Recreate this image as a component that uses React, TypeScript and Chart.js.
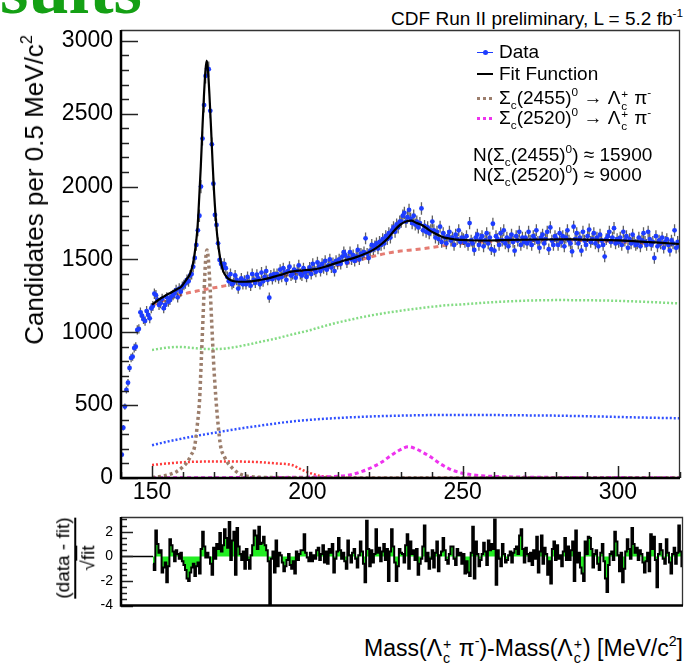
import React, { useEffect, useRef } from "react";
import { Chart, registerables } from "chart.js";

Chart.register(...registerables);

const FONT = '"Liberation Sans", Arial, Helvetica, sans-serif';

// ---- axes -------------------------------------------------------------
const MASS_MIN = 140;
const MASS_MAX = 320;
const COUNT_MAX = 3075;
const PULL_MIN = -4;
const PULL_MAX = 3.2;
const X_TICKS = [150, 200, 250, 300];
const Y_TICKS = [0, 500, 1000, 1500, 2000, 2500, 3000];
const PULL_TICKS = [-4, -2, 0, 2];

// ---- histogram: candidates per 0.5 MeV/c^2 (bin centres from 140.25) ---
const BIN_WIDTH = 0.5;
const DATA_FIRST_BIN = 140.25;
const CANDIDATES = [
  160, 345, 490, 604, 654, 755, 824, 833, 892, 901, 1016, 1023, 1137, 1114, 1090, 1078, 1146, 1119, 1096, 1165,
  1180, 1265, 1255, 1222, 1188, 1199, 1230, 1165, 1188, 1240, 1210, 1222, 1245, 1256, 1268, 1290, 1240, 1300, 1279, 1313,
  1325, 1336, 1360, 1350, 1390, 1400, 1450, 1510, 1600, 1700, 1800, 2000, 2330, 2560, 2760, 2810, 2806, 2520, 2290, 2020,
  1806, 1737, 1611, 1497, 1470, 1450, 1470, 1440, 1380, 1350, 1400, 1330, 1340, 1390, 1360, 1300, 1340, 1370, 1330, 1355,
  1330, 1380, 1345, 1320, 1400, 1360, 1340, 1395, 1370, 1330, 1410, 1350, 1380, 1420, 1360, 1238, 1390, 1365, 1400, 1380,
  1400, 1370, 1430, 1380, 1440, 1410, 1360, 1420, 1450, 1390, 1400, 1430, 1375, 1420, 1460, 1400, 1390, 1440, 1410, 1380,
  1420, 1445, 1400, 1470, 1430, 1415, 1480, 1450, 1420, 1470, 1440, 1490, 1430, 1460, 1500, 1445, 1475, 1420, 1490, 1470,
  1500, 1470, 1520, 1550, 1530, 1480, 1510, 1550, 1500, 1530, 1490, 1520, 1565, 1500, 1540, 1530, 1550, 1645, 1540, 1510,
  1560, 1600, 1570, 1590, 1610, 1575, 1620, 1600, 1640, 1610, 1660, 1640, 1680, 1650, 1700, 1720, 1690, 1740, 1720, 1760,
  1760, 1800, 1820, 1760, 1790, 1840, 1780, 1750, 1800, 1740, 1760, 1720, 1750, 1850, 1700, 1730, 1690, 1720, 1680, 1700,
  1760, 1700, 1650, 1690, 1640, 1725, 1620, 1680, 1650, 1610, 1660, 1690, 1630, 1650, 1600, 1670, 1640, 1700, 1620, 1650,
  1640, 1620, 1660, 1600, 1750, 1630, 1610, 1565, 1650, 1670, 1600, 1640, 1660, 1590, 1630, 1680, 1610, 1650, 1570, 1745,
  1560, 1660, 1640, 1600, 1680, 1630, 1700, 1610, 1650, 1590, 1640, 1670, 1620, 1560, 1660, 1630, 1690, 1600, 1650, 1620,
  1650, 1610, 1690, 1630, 1600, 1660, 1640, 1700, 1620, 1580, 1650, 1670, 1610, 1640, 1690, 1570, 1720, 1630, 1600, 1660,
  1640, 1600, 1680, 1620, 1660, 1590, 1650, 1700, 1630, 1610, 1555, 1725, 1640, 1680, 1610, 1650, 1560, 1690, 1630, 1600,
  1660, 1705, 1620, 1640, 1680, 1610, 1650, 1590, 1670, 1630, 1600, 1520, 1640, 1660, 1690, 1620, 1650, 1715, 1610, 1640,
  1620, 1650, 1600, 1690, 1630, 1660, 1580, 1640, 1610, 1670, 1620, 1600, 1611, 1650, 1590, 1630, 1680, 1620, 1600, 1690,
  1640, 1600, 1620, 1510, 1660, 1590, 1630, 1610, 1650, 1580, 1620, 1640, 1600, 1560, 1630, 1610, 1700, 1580, 1620, 1590,
];

// ---- (data - fit)/sqrt(fit) per bin, fit range 150-320 ------------------
const PULL_FIRST_BIN = 150.25;
const PULLS = [
  -0.6, -1.1, 2.1, 1.0, 0.3, 0.5, -1.3, -0.9, -0.5, -2.1, -0.8, 1.4, 0.9, 0.4, -0.4, 0.5, 0.2, -0.2, 0.3, -0.4,
  -0.7, -1.1, -1.8, -2.0, -1.3, -0.9, -0.6, -1.6, -0.8, -0.5, -1.4, 0.6, 2.0, 0.8, -0.1, 0.3, -0.1, -0.6, -1.5, 0.7,
  -0.2, 1.0, 0.6, 1.9, 0.4, 0.9, 2.2, 1.5, 0.7, 2.8, -0.3, 1.3, 2.0, -1.5, 2.3, 0.8, 0.2, -0.3, 0.4, -1.0,
  0.6, -0.3, -1.0, 0.1, 0.9, 2.1, 1.7, 0.6, 2.4, 1.0, 1.1, 1.6, 0.9, 0.5, -0.4, -3.9, -0.2, 0.4, -1.3, 1.3,
  -0.8, 0.3, 0.1, -0.5, -1.2, -0.8, -0.3, 0.2, -0.7, -1.0, -0.4, -1.4, 0.4, -0.3, 0.2, 0.5, 0.5, 1.8, 0.3, -0.1,
  -0.4, 0.3, -0.4, 0.1, -0.2, 0.5, 0.7, -0.3, 0.2, 0.9, -0.5, 0.4, -0.6, 0.6, 0.3, 1.0, -1.3, -0.2, 0.4, 1.5,
  0.5, -0.2, 0.3, -0.4, -1.0, 1.3, 0.1, -0.5, 0.3, 0.6, -0.2, -0.9, 0.1, 1.2, 0.4, -0.6, -2.1, 2.9, 0.6, -0.8,
  0.5, -0.5, 0.2, 2.2, 0.3, 0.7, -0.4, 0.4, 1.0, -0.3, 0.6, -2.0, 0.4, 2.2, 0.8, -0.5, -2.0, -0.8, 0.6, 0.3,
  0.2, -0.5, 0.9, 1.8, -1.0, 1.2, 0.2, 0.5, -0.3, 0.6, -1.5, -0.6, -0.2, 0.8, 2.5, -0.4, 0.3, -1.0, -0.2, 0.5,
  -0.9, 0.3, 1.2, -1.2, 0.1, 0.4, 1.5, 0.5, -0.3, -0.6, 0.2, 0.8, 0.8, -0.2, -0.7, 0.6, 0.1, 0.3, -0.6, 0.2,
  -1.4, -0.4, -1.3, -1.6, 0.3, 2.4, -1.8, 1.2, 0.2, -0.8, -0.3, 0.2, 1.1, 0.4, -0.7, 1.3, 0.5, 1.0, 0.6, 3.0,
  -2.3, 0.5, -0.2, -0.8, 1.0, 0.2, -0.5, -0.3, 0.1, 0.4, -0.5, 0.3, 0.6, 0.8, 0.2, 1.7, 2.2, 0.6, -0.5, 0.7,
  0.2, -0.4, 0.3, -0.7, 0.5, -0.2, 1.6, -1.3, 0.4, 1.7, -0.6, 0.7, 0.2, -1.5, -0.4, -2.2, 0.6, 1.2, -0.3, 0.9,
  -0.2, 0.1, -0.8, 0.4, 1.5, -0.3, 0.8, -0.3, 0.5, 1.2, -2.0, 2.1, -0.5, 0.3, -0.9, -1.4, -2.0, 1.2, 0.2, 1.6,
  1.5, 0.6, -0.9, 0.2, 0.5, -0.6, -1.1, 0.3, 1.0, -0.4, -1.8, -2.9, -0.7, 0.2, 0.4, -0.3, 2.0, 1.2, 0.1, -1.2,
  0.3, -2.1, -1.0, 0.4, 1.4, 0.6, -0.2, 2.3, 1.0, 0.3, 0.7, -0.3, 0.5, 0.2, -0.5, -1.3, -0.4, 0.3, -1.2, 1.8,
  0.6, 1.6, -0.3, -2.5, 0.2, 1.0, 0.5, -0.2, -0.6, 1.4, 0.3, -0.5, -1.4, 0.2, 0.7, -0.6, 0.3, 2.5, 0.4, -0.8,
];

// ---- fit function and its components ---------------------------------
const FIT_MASS = [150, 152, 154, 156, 158, 159.4, 160.5, 161.5, 162.2, 162.8, 163.2, 163.7, 164.2, 164.7, 165.2, 165.7, 166.2, 166.7, 167.2, 167.6, 168, 168.5, 169, 169.5, 170, 170.5, 171, 171.5, 172, 172.5, 173, 174, 175, 176, 178, 180, 182, 184, 186, 188, 190, 192, 194, 196, 198, 200, 202, 204, 206, 208, 210, 212, 214, 216, 218, 220, 222, 224, 226, 228, 230, 232, 233.5, 235, 237, 239, 241, 243, 245, 248, 252, 258, 265, 275, 285, 295, 305, 312, 320];
const FIT_VALUE = [1190, 1222, 1248, 1272, 1296, 1313, 1345, 1375, 1400, 1440, 1474, 1540, 1620, 1740, 1930, 2140, 2390, 2620, 2800, 2865, 2800, 2620, 2400, 2160, 1950, 1790, 1660, 1570, 1500, 1450, 1415, 1380, 1362, 1352, 1347, 1347, 1350, 1356, 1364, 1374, 1386, 1398, 1412, 1420, 1424, 1428, 1432, 1440, 1452, 1466, 1480, 1494, 1504, 1518, 1534, 1552, 1576, 1608, 1648, 1698, 1740, 1762, 1766, 1752, 1735, 1705, 1680, 1660, 1646, 1636, 1632, 1630, 1634, 1637, 1638, 1634, 1626, 1617, 1606];

const BKG_MASS = [150, 155, 160, 165, 170, 175, 180, 185, 190, 195, 200, 205, 210, 215, 220, 225, 230, 235, 240, 245, 250, 255, 260, 270, 280, 290, 300, 310, 320];
const BKG_VALUE = [1185, 1228, 1262, 1286, 1306, 1325, 1344, 1360, 1380, 1402, 1420, 1436, 1460, 1484, 1515, 1540, 1558, 1568, 1582, 1598, 1610, 1618, 1624, 1630, 1632, 1630, 1622, 1610, 1598];

const SC2455_MASS = [150, 152, 155, 158, 160, 161.5, 162.5, 163.7, 164.5, 165.3, 165.8, 166.3, 166.8, 167.2, 167.7, 168.2, 168.7, 169.2, 169.8, 170.6, 171.3, 172.1, 173.2, 174.5, 176, 178, 180, 183, 190, 210, 240, 320];
const SC2455_VALUE = [4, 8, 20, 45, 78, 115, 155, 215, 350, 535, 780, 1040, 1300, 1480, 1565, 1480, 1300, 1070, 800, 535, 360, 215, 150, 100, 65, 30, 15, 7, 3, 1, 0, 0];

const SC2520_MASS = [150, 180, 200, 210, 214, 218, 221, 224, 227, 230, 232.5, 235, 237, 240, 243, 246, 249, 253, 258, 265, 280, 300, 320];
const SC2520_VALUE = [2, 3, 6, 12, 22, 48, 75, 110, 155, 195, 215, 200, 178, 140, 95, 60, 38, 22, 13, 8, 4, 3, 2];

const GREEN_MASS = [150, 155, 159, 163, 167, 171, 175, 180, 185, 190, 195, 200, 205, 210, 215, 220, 225, 230, 235, 240, 245, 250, 255, 260, 270, 280, 290, 300, 310, 320];
const GREEN_VALUE = [879, 895, 900, 893, 886, 885, 893, 912, 935, 958, 985, 1010, 1040, 1068, 1092, 1114, 1132, 1148, 1162, 1175, 1186, 1192, 1200, 1207, 1217, 1221, 1220, 1216, 1208, 1198];

const BLUE_MASS = [150, 155, 160, 165, 170, 175, 180, 185, 190, 195, 200, 210, 220, 230, 240, 250, 260, 270, 280, 290, 300, 310, 320];
const BLUE_VALUE = [225, 250, 272, 292, 310, 328, 345, 360, 375, 388, 398, 412, 422, 428, 432, 433, 432, 430, 428, 424, 419, 414, 410];

const RED_MASS = [150, 155, 160, 165, 170, 175, 180, 185, 190, 195, 198, 200, 202, 204, 207, 210, 215, 230, 260, 290, 320];
const RED_VALUE = [89, 100, 108, 112, 113, 113, 112, 108, 100, 89, 60, 40, 27, 15, 8, 3, 1, 0, 0, 0, 0];

const pairs = (xs: number[], ys: number[]) => xs.map((x, i) => ({ x, y: ys[i] }));
const binned = (first: number, ys: number[]) => ys.map((y, i) => ({ x: first + i * BIN_WIDTH, y }));

// Poisson error bars on the histogram points
const errorBars = {
  id: "errorBars",
  beforeDatasetDraw(chart: any, args: any) {
    const ds = chart.data.datasets[args.index];
    if (!ds.errorBars) return;
    const { ctx, chartArea: a } = chart;
    const ys = chart.scales.y;
    ctx.save();
    ctx.beginPath();
    ctx.rect(a.left, a.top, a.right - a.left, a.bottom - a.top);
    ctx.clip();
    ctx.strokeStyle = "rgba(35,35,35,0.72)";
    ctx.lineWidth = 1.3;
    ctx.beginPath();
    args.meta.data.forEach((pt: any, i: number) => {
      const v = ds.data[i].y;
      const e = Math.sqrt(v);
      ctx.moveTo(pt.x, ys.getPixelForValue(v + e));
      ctx.lineTo(pt.x, ys.getPixelForValue(v - e));
    });
    ctx.stroke();
    ctx.restore();
  },
};

// frame with inward tick marks
const frameTicks = {
  id: "frameTicks",
  afterDatasetsDraw(chart: any, _args: any, o: any) {
    const { ctx, chartArea: a } = chart;
    const xs = chart.scales.x;
    const ys = chart.scales.y;
    ctx.save();
    ctx.strokeStyle = "#222";
    ctx.lineWidth = 1.5;
    const isMajor = (v: number, step: number) => Math.abs(v / step - Math.round(v / step)) < 1e-6;
    if (o.xMinor) {
      for (let v = Math.ceil(xs.min / o.xMinor) * o.xMinor; v <= xs.max + 1e-9; v += o.xMinor) {
        const px = Math.round(xs.getPixelForValue(v)) + 0.5;
        const len = isMajor(v, o.xMajor) ? o.xLong : o.xShort;
        ctx.beginPath();
        ctx.moveTo(px, a.bottom);
        ctx.lineTo(px, a.bottom - len);
        ctx.stroke();
      }
    }
    if (o.yMinor) {
      for (let v = Math.ceil(ys.min / o.yMinor) * o.yMinor; v <= ys.max + 1e-9; v += o.yMinor) {
        const py = Math.round(ys.getPixelForValue(v)) + 0.5;
        const len = isMajor(v, o.yMajor) ? o.yLong : o.yShort;
        ctx.beginPath();
        ctx.moveTo(a.left, py);
        ctx.lineTo(a.left + len, py);
        ctx.stroke();
      }
    }
    // frame
    ctx.strokeStyle = "#333";
    ctx.lineWidth = 1.3;
    ctx.beginPath();
    ctx.moveTo(a.left, a.top + 0.5);
    ctx.lineTo(a.right - 0.5, a.top + 0.5);
    ctx.lineTo(a.right - 0.5, a.bottom);
    ctx.stroke();
    ctx.strokeStyle = "#000";
    ctx.lineWidth = 2.5;
    ctx.beginPath();
    ctx.moveTo(a.left, a.top);
    ctx.lineTo(a.left, a.bottom);
    ctx.lineTo(a.right, a.bottom);
    ctx.stroke();
    ctx.restore();
  },
};

const curve = (data: any, color: string, width: number, dash: number[], order: number) => ({
  type: "line",
  data,
  borderColor: color,
  borderWidth: width,
  borderDash: dash,
  pointRadius: 0,
  fill: false,
  cubicInterpolationMode: "monotone",
  order,
});

const plainNumber = (v: any) => String(v);

const Sup = ({ fs, children }: any) => (
  <span style={{ fontSize: fs * 0.62, position: "relative", top: -fs * 0.42, lineHeight: 0 }}>{children}</span>
);
const Sub = ({ fs, children }: any) => (
  <span style={{ fontSize: fs * 0.62, position: "relative", top: fs * 0.25, lineHeight: 0 }}>{children}</span>
);
const SubSup = ({ fs, sub, sup }: any) => (
  <span style={{ display: "inline-block", position: "relative", width: fs * 0.45, height: fs * 0.7, lineHeight: 0 }}>
    <span style={{ position: "absolute", left: 1, top: -fs * 0.12, fontSize: fs * 0.62, lineHeight: 1 }}>{sup}</span>
    <span style={{ position: "absolute", left: 1, top: fs * 0.5, fontSize: fs * 0.62, lineHeight: 1 }}>{sub}</span>
  </span>
);

const LEG_FS = 19;

const LegendRow = ({ top, symbol, children }: any) => (
  <div style={{ position: "absolute", left: 477, top, height: 22, display: "flex", alignItems: "center", whiteSpace: "nowrap", fontSize: LEG_FS, lineHeight: "22px" }}>
    <div style={{ width: 16, height: 22, position: "relative", marginRight: 6 }}>{symbol}</div>
    <span>{children}</span>
  </div>
);

const dashed = (color: string, h: number, on: number, off: number) => (
  <div style={{ position: "absolute", left: 0, top: 11 - h / 2, width: 16, height: h, background: `repeating-linear-gradient(90deg, ${color} 0 ${on}px, transparent ${on}px ${on + off}px)` }} />
);

export default function App() {
  const mainRef = useRef<HTMLCanvasElement>(null);
  const pullRef = useRef<HTMLCanvasElement>(null);

  useEffect(() => {
    const tickFont = { family: FONT, size: 23 };
    const main = new Chart(mainRef.current as HTMLCanvasElement, {
      type: "line",
      data: {
        datasets: [
          curve(pairs(FIT_MASS, FIT_VALUE), "#000", 2.2, [], 0),
          {
            type: "line",
            data: binned(DATA_FIRST_BIN, CANDIDATES),
            showLine: false,
            pointRadius: 2.4,
            pointBorderWidth: 0,
            pointBackgroundColor: "#1d3cff",
            errorBars: true,
            order: 1,
          } as any,
          curve(pairs(BKG_MASS, BKG_VALUE), "rgba(226,110,100,0.9)", 3, [5, 4], 2),
          curve(pairs(SC2455_MASS, SC2455_VALUE), "#9c7e6c", 3.5, [3, 3], 3),
          curve(pairs(SC2520_MASS, SC2520_VALUE), "#ee33ee", 3, [4, 3], 4),
          curve(pairs(GREEN_MASS, GREEN_VALUE), "#84dc84", 2.5, [2, 2], 5),
          curve(pairs(BLUE_MASS, BLUE_VALUE), "#3050ff", 2.5, [2, 2], 6),
          curve(pairs(RED_MASS, RED_VALUE), "#ff3b3b", 2.5, [2, 2], 7),
        ] as any,
      },
      options: {
        responsive: false,
        animation: false,
        devicePixelRatio: 1,
        layout: { padding: { top: 30, right: 1, left: 0, bottom: 0 } },
        plugins: {
          legend: { display: false },
          tooltip: { enabled: false },
          frameTicks: { xMinor: 10, xMajor: 50, xLong: 12, xShort: 6, yMinor: 100, yMajor: 500, yLong: 17, yShort: 8 },
        } as any,
        scales: {
          x: {
            type: "linear",
            min: MASS_MIN,
            max: MASS_MAX,
            grid: { display: false, drawTicks: false },
            border: { display: false },
            afterBuildTicks: (s: any) => { s.ticks = X_TICKS.map((v) => ({ value: v })); },
            afterFit: (s: any) => { s.height = 32; },
            ticks: { font: tickFont, color: "#000", padding: 1, maxRotation: 0, autoSkip: false, callback: plainNumber },
          },
          y: {
            type: "linear",
            min: 0,
            max: COUNT_MAX,
            grid: { display: false, drawTicks: false },
            border: { display: false },
            afterBuildTicks: (s: any) => { s.ticks = Y_TICKS.map((v) => ({ value: v })); },
            afterFit: (s: any) => { s.width = 121; },
            ticks: { font: tickFont, color: "#000", padding: 8, callback: plainNumber },
          },
        } as any,
      },
      plugins: [errorBars, frameTicks],
    } as any);

    const pull = new Chart(pullRef.current as HTMLCanvasElement, {
      type: "line",
      data: {
        datasets: [
          {
            data: binned(PULL_FIRST_BIN, PULLS),
            stepped: "middle",
            borderColor: "#000",
            borderWidth: 2,
            backgroundColor: "#22ee22",
            fill: "origin",
            pointRadius: 0,
          },
          {
            data: [{ x: MASS_MIN, y: 0 }, { x: PULL_FIRST_BIN, y: 0 }],
            borderColor: "#000",
            borderWidth: 1.5,
            pointRadius: 0,
            fill: false,
          },
        ] as any,
      },
      options: {
        responsive: false,
        animation: false,
        devicePixelRatio: 1,
        layout: { padding: { top: 17, right: 1, left: 0, bottom: 4 } },
        plugins: {
          legend: { display: false },
          tooltip: { enabled: false },
          frameTicks: { yMinor: 0.5, yMajor: 2, yLong: 12, yShort: 6 },
        } as any,
        scales: {
          x: { type: "linear", min: MASS_MIN, max: MASS_MAX, display: false },
          y: {
            type: "linear",
            min: PULL_MIN,
            max: PULL_MAX,
            grid: { display: false, drawTicks: false },
            border: { display: false },
            afterBuildTicks: (s: any) => { s.ticks = PULL_TICKS.map((v) => ({ value: v })); },
            afterFit: (s: any) => { s.width = 121; },
            ticks: { font: { family: FONT, size: 14 }, color: "#000", padding: 8, callback: plainNumber },
          },
        } as any,
      },
      plugins: [frameTicks],
    } as any);

    return () => {
      main.destroy();
      pull.destroy();
    };
  }, []);

  return (
    <div style={{ position: "fixed", left: 0, top: 0, width: 685, height: 664, overflow: "hidden", background: "#fff", fontFamily: FONT, color: "#000" }}>
      <div style={{ position: "absolute", left: 0, top: -48, fontFamily: '"Liberation Serif", "Times New Roman", serif', fontWeight: 700, fontSize: 73, lineHeight: 1, color: "#14a014", whiteSpace: "nowrap" }}>
        sults
      </div>
      <div style={{ position: "absolute", right: 2, top: 9, fontSize: 19, lineHeight: "20px", whiteSpace: "nowrap" }}>
        CDF Run II preliminary, L = 5.2 fb<Sup fs={19}>-1</Sup>
      </div>

      <canvas ref={mainRef} width={684} height={510} style={{ position: "absolute", left: 0, top: 0, width: 684, height: 510 }} />
      <canvas ref={pullRef} width={684} height={122} style={{ position: "absolute", left: 0, top: 500, width: 684, height: 122 }} />

      {/* legend */}
      <LegendRow top={41} symbol={<>
        <div style={{ position: "absolute", left: 0, top: 10.5, width: 16, height: 1, background: "#1d3cff" }} />
        <div style={{ position: "absolute", left: 5.5, top: 8.5, width: 5, height: 5, borderRadius: 3, background: "#1d3cff" }} />
      </>}>Data</LegendRow>
      <LegendRow top={63} symbol={<div style={{ position: "absolute", left: 0, top: 10, width: 16, height: 2, background: "#000" }} />}>Fit Function</LegendRow>
      <LegendRow top={87} symbol={dashed("#9c7e6c", 3, 3, 3)}>
        Σ<Sub fs={LEG_FS}>c</Sub>(2455)<Sup fs={LEG_FS}>0</Sup> → Λ<SubSup fs={LEG_FS} sub="c" sup="+" /> π<Sup fs={LEG_FS}>-</Sup>
      </LegendRow>
      <LegendRow top={107} symbol={dashed("#ee33ee", 3, 3, 3)}>
        Σ<Sub fs={LEG_FS}>c</Sub>(2520)<Sup fs={LEG_FS}>0</Sup> → Λ<SubSup fs={LEG_FS} sub="c" sup="+" /> π<Sup fs={LEG_FS}>-</Sup>
      </LegendRow>
      <div style={{ position: "absolute", left: 473, top: 144, fontSize: LEG_FS, lineHeight: "22px", whiteSpace: "nowrap" }}>
        N(Σ<Sub fs={LEG_FS}>c</Sub>(2455)<Sup fs={LEG_FS}>0</Sup>) ≈ 15900
      </div>
      <div style={{ position: "absolute", left: 473, top: 164, fontSize: LEG_FS, lineHeight: "22px", whiteSpace: "nowrap" }}>
        N(Σ<Sub fs={LEG_FS}>c</Sub>(2520)<Sup fs={LEG_FS}>0</Sup>) ≈ 9000
      </div>

      {/* y title */}
      <div style={{ position: "absolute", left: 34, top: 190, transform: "translate(-50%, -50%) rotate(-90deg)", fontSize: 26, lineHeight: "28px", whiteSpace: "nowrap" }}>
        Candidates per 0.5 MeV/c<Sup fs={26}>2</Sup>
      </div>

      {/* pull-panel y title */}
      <div style={{ position: "absolute", left: 75, top: 558, transform: "translate(-50%, -50%) rotate(-90deg)", display: "flex", flexDirection: "column", alignItems: "center", fontSize: 19, lineHeight: "21px", whiteSpace: "nowrap" }}>
        <span>(data - fit)</span>
        <div style={{ alignSelf: "stretch", height: 1.5, background: "#000", margin: "1px 0" }} />
        <span>√<span style={{ borderTop: "1.5px solid #000" }}>fit</span></span>
      </div>

      {/* x title */}
      <div style={{ position: "absolute", right: 2, top: 635, fontSize: 23, lineHeight: "26px", whiteSpace: "nowrap" }}>
        Mass(Λ<SubSup fs={23} sub="c" sup="+" /> π<Sup fs={23}>-</Sup>)-Mass(Λ<SubSup fs={23} sub="c" sup="+" />) [MeV/c<Sup fs={23}>2</Sup>]
      </div>
    </div>
  );
}
